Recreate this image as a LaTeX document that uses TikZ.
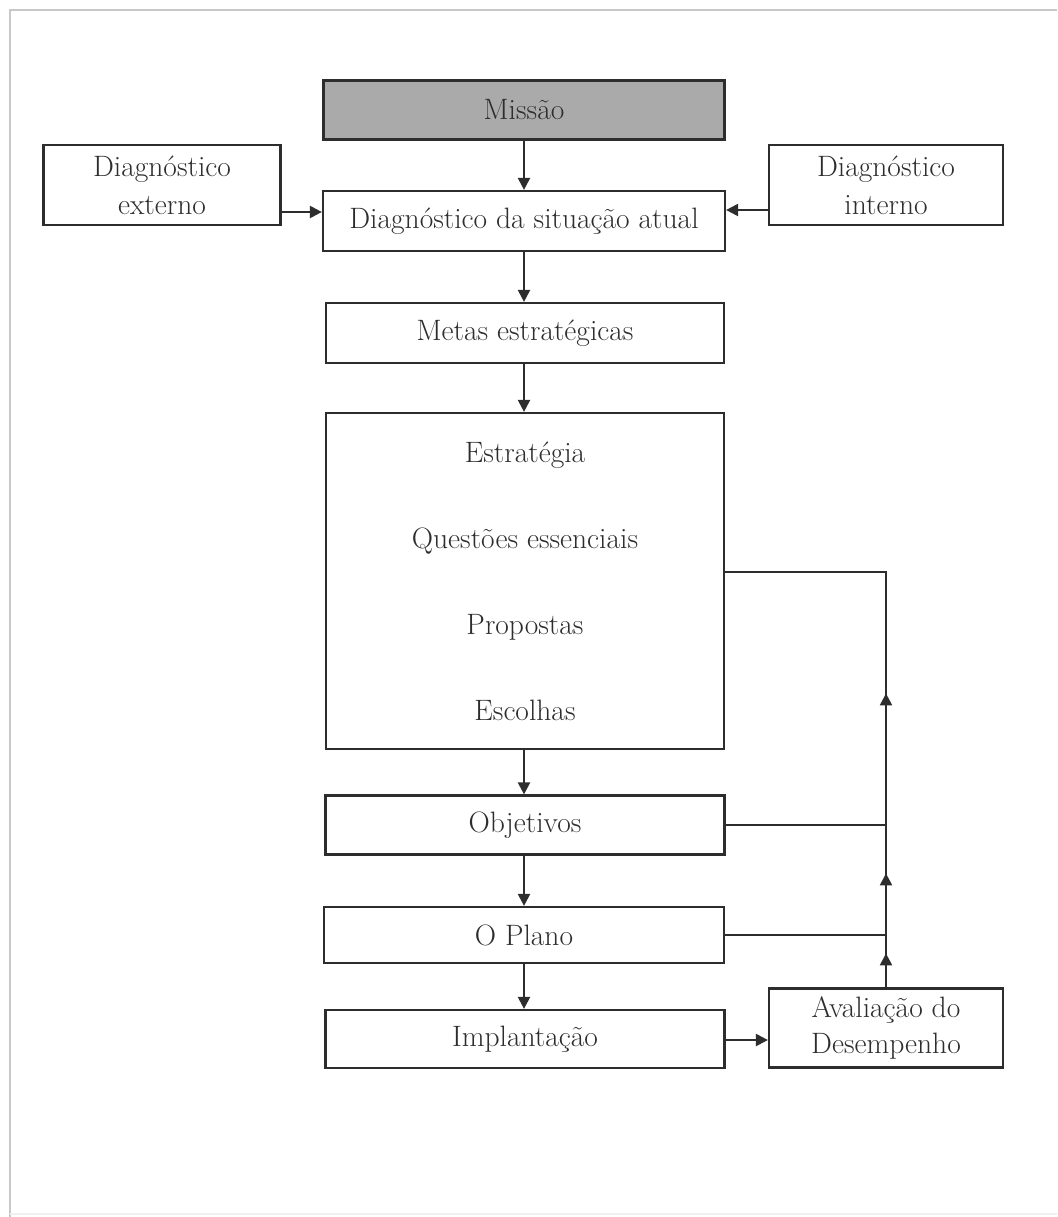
\documentclass[tikz,border=0pt]{standalone}
\usetikzlibrary{arrows.meta,decorations.markings}
\definecolor{ink}{RGB}{45,45,45}
\definecolor{missaofill}{RGB}{170,170,170}
\definecolor{framegray}{RGB}{200,200,200}
\newcommand\boxfont{\fontsize{29.5}{38}\selectfont}
\tikzset{
  box/.style={draw=ink, line width=2.2pt, inner sep=0pt, align=center,
              text=ink, font=\boxfont},
  link/.style={draw=ink, line width=2.2pt},
  tip/.tip={Triangle[length=12pt,width=12pt]},
  arr/.style={link, -tip},
  feedback/.style={link, postaction={decorate}, decoration={markings,
      mark=at position 34pt with {\arrow{tip}},
      mark=at position 114pt with {\arrow{tip}},
      mark=at position 294pt with {\arrow{tip}}}}
}
\begin{document}
\begin{tikzpicture}[x=1pt, y=-1pt, line join=miter]
  \useasboundingbox (0,0) rectangle (1057,1217);
  % page frame
  \draw[framegray, line width=2.5pt] (1057,10) -- (10,10) -- (10,1217);
  \draw[black!6, line width=2pt] (10,1214) -- (1057,1214);

  % main column
  \node[box, fill=missaofill, minimum width=401pt, minimum height=59pt] (missao) at (524,110) {Missão};
  \node[box, minimum width=402pt, minimum height=60pt] (sit) at (524,221) {Diagnóstico da situação atual};
  \node[box, minimum width=237pt, minimum height=80pt] (ext) at (162,185) {Diagnóstico\\externo};
  \node[box, minimum width=234pt, minimum height=80pt] (int) at (886,185) {Diagnóstico\\interno};
  \node[box, minimum width=398pt, minimum height=60pt] (metas) at (525,333) {Metas estratégicas};
  \node[box, minimum width=398pt, minimum height=336pt, font=\fontsize{29.5}{86}\selectfont] (estr) at (525,581)
    {Estratégia\\Questões essenciais\\Propostas\\Escolhas};
  \node[box, minimum width=399pt, minimum height=59pt] (obj) at (525,825) {Objetivos};
  \node[box, minimum width=400pt, minimum height=56pt] (plano) at (524,935) {O Plano};
  \node[box, minimum width=399pt, minimum height=58pt] (impl) at (525,1039) {Implantação};
  \node[box, minimum width=234pt, minimum height=79pt, font=\fontsize{29.5}{36}\selectfont] (aval) at (886,1028) {Avaliação do\\Desempenho};

  % downward flow, all on one vertical
  \coordinate (col) at (524,0);
  \draw[arr] (missao.south -| col) -- (sit.north -| col);
  \draw[arr] (sit.south -| col) -- (metas.north -| col);
  \draw[arr] (metas.south -| col) -- (estr.north -| col);
  \draw[arr] (estr.south -| col) -- (obj.north -| col);
  \draw[arr] (obj.south -| col) -- (plano.north -| col);
  \draw[arr] (plano.south -| col) -- (impl.north -| col);

  % inputs to the diagnosis
  \draw[arr] (ext.east |- 0,212) -- (sit.west |- 0,212);
  \draw[arr] (int.west |- 0,210) -- (sit.east |- 0,210);

  % evaluation and feedback loop
  \draw[arr] (impl.east |- 0,1040) -- (aval.west |- 0,1040);
  \coordinate (fbtop) at (886,572);
  \draw[feedback] (aval.north) -- (fbtop) -- (estr.east |- fbtop);
  \draw[link] (obj.east) -- (obj.east -| fbtop);
  \draw[link] (plano.east) -- (plano.east -| fbtop);
\end{tikzpicture}
\end{document}
